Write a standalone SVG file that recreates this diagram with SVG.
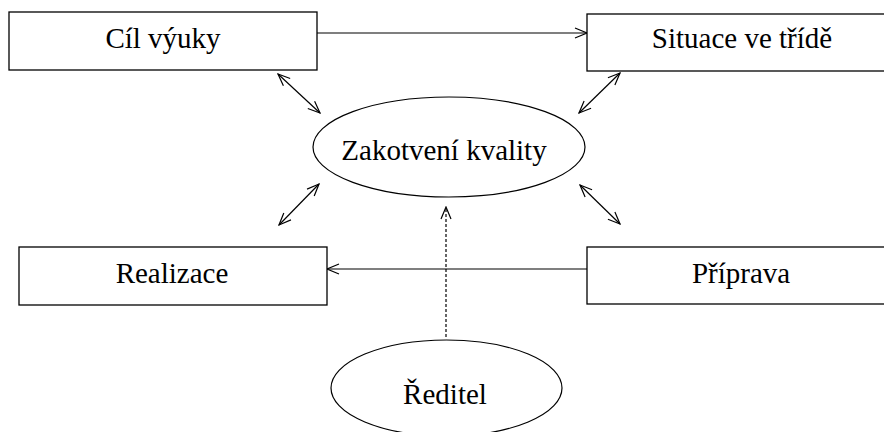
<svg xmlns="http://www.w3.org/2000/svg" width="884" height="432" viewBox="0 0 884 432">
<style>
.box{fill:#fff;stroke:#000;stroke-width:1.3}
.ell{fill:#fff;stroke:#000;stroke-width:1.2}
.lbl{font-family:"Liberation Serif","Times New Roman",serif;font-size:29px;fill:#000;text-anchor:middle}
.con{stroke:#000;stroke-width:1.2;fill:none}
.dash{stroke-dasharray:3,2}
</style>
<defs>
<marker id="ah" viewBox="0 0 14 12" refX="13" refY="6" markerWidth="14" markerHeight="12" markerUnits="userSpaceOnUse" orient="auto-start-reverse">
<path d="M1,1 L13,6 L1,11" fill="none" stroke="#000" stroke-width="1.2"/>
</marker>
</defs>
<rect width="884" height="432" fill="#fff"/>
<g id="connectors">
<line class="con" x1="317" y1="33" x2="587" y2="33" marker-end="url(#ah)"/>
<line class="con" x1="587" y1="269" x2="327" y2="269" marker-end="url(#ah)"/>
<line class="con" x1="278" y1="74" x2="320" y2="113" marker-start="url(#ah)" marker-end="url(#ah)"/>
<line class="con" x1="620" y1="73" x2="579" y2="113" marker-start="url(#ah)" marker-end="url(#ah)"/>
<line class="con" x1="319" y1="184" x2="279" y2="225" marker-start="url(#ah)" marker-end="url(#ah)"/>
<line class="con" x1="580" y1="185" x2="620" y2="224" marker-start="url(#ah)" marker-end="url(#ah)"/>
<line class="con dash" x1="446" y1="337" x2="446" y2="207" marker-end="url(#ah)"/>
</g>
<g id="cil">
<rect class="box" x="9" y="12" width="308" height="58"/>
<text class="lbl" x="163" y="48">Cíl výuky</text>
</g>
<g id="situace">
<rect class="box" x="587" y="14" width="310" height="57"/>
<text class="lbl" x="742" y="48">Situace ve třídě</text>
</g>
<g id="zakotveni">
<ellipse class="ell" cx="449" cy="147" rx="136" ry="50"/>
<text class="lbl" x="444" y="160">Zakotvení kvality</text>
</g>
<g id="realizace">
<rect class="box" x="19" y="247" width="308" height="58"/>
<text class="lbl" x="172" y="283">Realizace</text>
</g>
<g id="priprava">
<rect class="box" x="587" y="247" width="310" height="57"/>
<text class="lbl" x="741" y="283">Příprava</text>
</g>
<g id="reditel">
<ellipse class="ell" cx="446.5" cy="388" rx="115.5" ry="48"/>
<text class="lbl" x="445" y="404">Ředitel</text>
</g>
</svg>
